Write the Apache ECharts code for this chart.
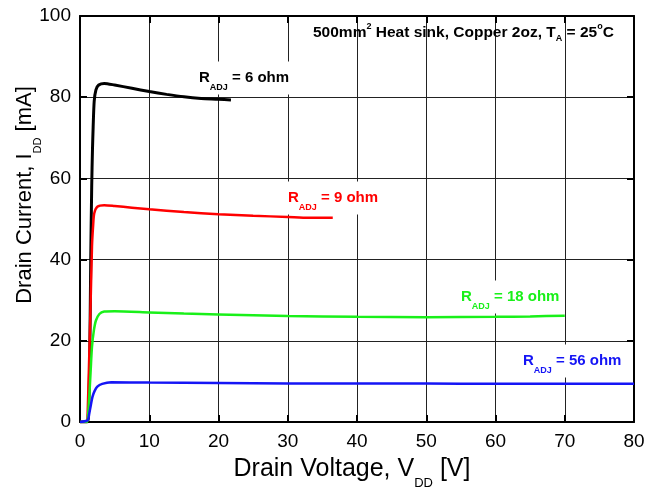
<!DOCTYPE html>
<html>
<head>
<meta charset="utf-8">
<script src="https://cdn.jsdelivr.net/npm/echarts@6/dist/echarts.min.js"></script>
<style>
  html, body { margin: 0; padding: 0; background: #fff; }
  #chart { width: 661px; height: 493px; }
</style>
</head>
<body>
<div id="chart"></div>
<script>
// drain voltage [V] / drain current [mA]
const v6 = [0, 1.0, 1.2, 1.4, 1.55, 1.69, 1.8, 1.9, 2.05, 2.3, 2.7, 3.5, 5, 7.5, 10, 12.5, 15, 17.5, 20, 21.8]
const i6 = [0, 0, 1, 15, 40, 58, 67, 72.7, 79, 81.8, 83, 83.4, 83, 82.2, 81.4, 80.7, 80.1, 79.7, 79.5, 79.3]

const v9 = [0, 1.0, 1.1, 1.3, 1.5, 1.73, 1.9, 2.06, 2.5, 3.5, 5, 7.5, 10, 15, 20, 25, 30, 33, 36.5]
const i9 = [0, 0, 2, 14, 26.8, 43.2, 48.5, 51.4, 53, 53.4, 53.2, 52.8, 52.4, 51.7, 51.2, 50.8, 50.5, 50.3, 50.3]

const v18 = [0, 1.0, 1.15, 1.34, 1.55, 1.73, 2.0, 2.3, 2.8, 3.5, 5, 10, 15, 20, 30, 40, 50, 60, 65, 70]
const i18 = [0, 0, 1.5, 6.2, 13, 18.5, 22.5, 25, 26.6, 27.2, 27.3, 27.0, 26.7, 26.5, 26.1, 25.9, 25.8, 25.9, 26.0, 26.2]

const v56 = [0, 1.0, 1.2, 1.34, 1.55, 1.8, 2.1, 2.5, 3.2, 4.5, 10, 20, 30, 40, 50, 60, 70, 80]
const i56 = [0, 0.3, 0.8, 2.1, 4, 6.2, 7.6, 8.7, 9.4, 9.8, 9.7, 9.6, 9.5, 9.5, 9.5, 9.4, 9.4, 9.4]

const xTicks = [0, 10, 20, 30, 40, 50, 60, 70, 80]
const yTicks = [0, 20, 40, 60, 80, 100]

const FONT = '"Liberation Sans", Arial, sans-serif'
const GREEN = '#19f019'
const BLUE = '#1515f5'
const RED = '#ff0000'

function pairs(xs, ys) {
  return xs.map((x, k) => [x, ys[k]])
}

function curve(name, xs, ys, color, width) {
  return {
    name,
    type: 'line',
    data: pairs(xs, ys),
    showSymbol: false,
    smooth: 0.25,
    lineStyle: { color, width },
    itemStyle: { color },
    animation: false,
  }
}

function axisBase(pos) {
  return {
    position: pos,
    min: 0,
    axisLine: { show: true, onZero: false, lineStyle: { color: '#000', width: 2 } },
    axisTick: { show: true, inside: true, length: 7, lineStyle: { color: '#000', width: 2 } },
  }
}

// R_ADJ label with subscript, white box hides the grid behind it
function rLabel(value, color, x, y) {
  return {
    type: 'text',
    x, y,
    style: {
      text: '{m|R}{s|ADJ}{m| = ' + value + ' ohm}',
      align: 'left',
      verticalAlign: 'middle',
      fill: color,
      backgroundColor: '#fff',
      padding: [2, 2, 2, 2],
      rich: {
        m: { fontFamily: FONT, fontWeight: 'bold', fontSize: 15, fill: color },
        s: { fontFamily: FONT, fontWeight: 'bold', fontSize: 9, fill: color, padding: [20, 0, 0, 0] },
      },
    },
    z: 10,
  }
}

const chart = echarts.init(document.getElementById('chart'))

chart.setOption({
  backgroundColor: '#fff',
  animation: false,
  grid: { left: 80, right: 27, top: 16, bottom: 71, containLabel: false },
  xAxis: [
    Object.assign(axisBase('bottom'), {
      type: 'value', max: 80, interval: 10,
      axisLabel: {
        color: '#000', fontFamily: FONT, fontSize: 19, margin: 10,
        formatter: (v) => (xTicks.includes(v) ? String(v) : ''),
      },
      splitLine: { show: true, lineStyle: { color: '#222', width: 1 } },
    }),
    Object.assign(axisBase('top'), {
      type: 'value', max: 80, interval: 10,
      axisLabel: { show: false },
      splitLine: { show: false },
    }),
  ],
  yAxis: [
    Object.assign(axisBase('left'), {
      type: 'value', max: 100, interval: 20,
      axisLabel: {
        color: '#000', fontFamily: FONT, fontSize: 19, margin: 9,
        formatter: (v) => (yTicks.includes(v) ? String(v) : ''),
      },
      splitLine: { show: true, lineStyle: { color: '#222', width: 1 } },
    }),
    Object.assign(axisBase('right'), {
      type: 'value', max: 100, interval: 20,
      axisLabel: { show: false },
      splitLine: { show: false },
    }),
  ],
  series: [
    curve('6 ohm', v6, i6, '#000', 3),
    curve('9 ohm', v9, i9, RED, 2.5),
    curve('18 ohm', v18, i18, GREEN, 2.5),
    curve('56 ohm', v56, i56, BLUE, 2.5),
  ],
  graphic: [
    rLabel('6', '#000', 197, 78),
    rLabel('9', RED, 286, 198),
    rLabel('18', GREEN, 459, 297),
    rLabel('56', BLUE, 521, 361),
    {
      type: 'text',
      x: 313, y: 33,
      style: {
        text: '{m|500mm}{p|2}{m| Heat sink, Copper 2oz, T}{s|A}{m| = 25}{p|o}{m|C}',
        align: 'left',
        verticalAlign: 'middle',
        rich: {
          m: { fontFamily: FONT, fontWeight: 'bold', fontSize: 15.5, fill: '#000' },
          p: { fontFamily: FONT, fontWeight: 'bold', fontSize: 9, fill: '#000', padding: [0, 0, 12, 0] },
          s: { fontFamily: FONT, fontWeight: 'bold', fontSize: 9, fill: '#000', padding: [12, 0, 0, 0] },
        },
      },
      z: 10,
    },
    {
      type: 'text',
      x: 352, y: 469,
      style: {
        text: '{m|Drain Voltage, V}{s|DD}{m| [V]}',
        align: 'center',
        verticalAlign: 'middle',
        rich: {
          m: { fontFamily: FONT, fontSize: 25, fill: '#000' },
          s: { fontFamily: FONT, fontSize: 13, fill: '#000', padding: [28, 0, 0, 0] },
        },
      },
    },
    {
      type: 'text',
      x: 25, y: 195,
      rotation: Math.PI / 2,
      style: {
        text: '{m|Drain Current, I}{s|DD}{m| [mA]}',
        align: 'center',
        verticalAlign: 'middle',
        rich: {
          m: { fontFamily: FONT, fontSize: 22, fill: '#000' },
          s: { fontFamily: FONT, fontSize: 11, fill: '#000', padding: [25, 0, 0, 0] },
        },
      },
    },
  ],
})
</script>
</body>
</html>
